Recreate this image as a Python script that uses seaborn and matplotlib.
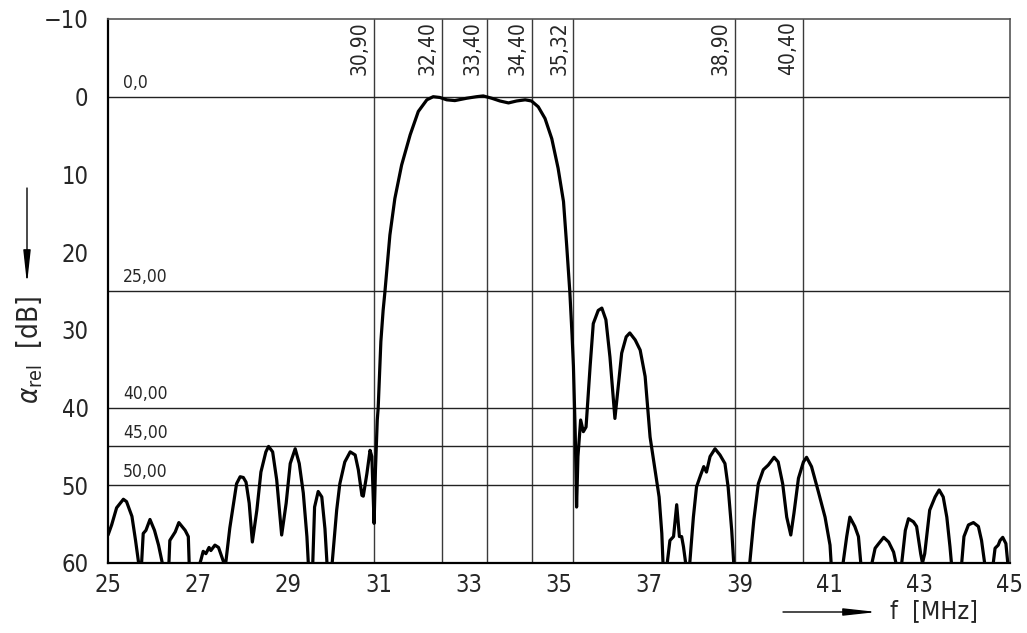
import matplotlib
matplotlib.use('Agg')
import matplotlib.pyplot as plt
from matplotlib import font_manager
import seaborn as sns
import pandas as pd

# SAW filter response, attenuation
freq = [25.00, 25.08, 25.19, 25.34, 25.41, 25.53, 25.61, 25.69, 25.73, 25.78,
        25.84, 25.93, 26.03, 26.12, 26.21, 26.29, 26.35, 26.37, 26.49, 26.57,
        26.71, 26.78, 26.80, 26.93, 27.06, 27.11, 27.17, 27.24, 27.28, 27.37,
        27.45, 27.58, 27.60, 27.70, 27.78, 27.85, 27.93, 28.00, 28.06, 28.13,
        28.20, 28.30, 28.39, 28.50, 28.56, 28.65, 28.74, 28.85, 28.95, 29.04,
        29.15, 29.24, 29.33, 29.41, 29.45, 29.50, 29.54, 29.58, 29.66, 29.74,
        29.81, 29.86, 29.92, 29.97, 30.07, 30.14, 30.25, 30.37, 30.48, 30.55,
        30.63, 30.66, 30.74, 30.81, 30.85, 30.90, 30.93, 30.97, 30.99, 31.05,
        31.10, 31.14, 31.25, 31.36, 31.51, 31.70, 31.88, 32.07, 32.21, 32.36,
        32.51, 32.69, 32.95, 33.17, 33.32, 33.51, 33.69, 33.88, 34.06, 34.25,
        34.39, 34.54, 34.69, 34.84, 34.98, 35.10, 35.17, 35.24, 35.29, 35.32,
        35.36, 35.38, 35.39, 35.42, 35.48, 35.54, 35.60, 35.69, 35.76, 35.87,
        35.95, 36.04, 36.13, 36.20, 36.24, 36.32, 36.39, 36.49, 36.57, 36.69,
        36.80, 36.91, 37.02, 37.13, 37.22, 37.28, 37.31, 37.35, 37.40, 37.46,
        37.54, 37.61, 37.67, 37.72, 37.76, 37.82, 37.86, 37.90, 37.98, 38.05,
        38.14, 38.21, 38.27, 38.35, 38.46, 38.57, 38.68, 38.75, 38.83, 38.88,
        39.05, 39.23, 39.32, 39.42, 39.53, 39.64, 39.77, 39.86, 39.96, 40.05,
        40.14, 40.21, 40.31, 40.42, 40.49, 40.60, 40.75, 40.90, 41.01, 41.04,
        41.17, 41.30, 41.38, 41.45, 41.56, 41.64, 41.70, 41.82, 41.94, 42.01,
        42.09, 42.20, 42.31, 42.42, 42.49, 42.55, 42.60, 42.68, 42.75, 42.86,
        42.93, 43.02, 43.06, 43.11, 43.22, 43.34, 43.43, 43.52, 43.60, 43.67,
        43.71, 43.82, 43.93, 43.98, 44.08, 44.19, 44.30, 44.37, 44.45, 44.54,
        44.63, 44.67, 44.74, 44.78, 44.84, 44.91, 44.96, 45.00]
atten = [56.4, 55.1, 52.9, 51.8, 52.1, 54.0, 57.1, 60.5, 61.5, 56.2,
         55.8, 54.4, 55.8, 57.7, 60.2, 62.0, 60.0, 57.1, 56.0, 54.8,
         55.8, 56.6, 60.2, 62.0, 59.6, 58.5, 58.8, 58.0, 58.4, 57.7,
         58.0, 60.2, 60.5, 55.5, 52.5, 49.8, 48.9, 49.0, 49.6, 52.3,
         57.3, 53.2, 48.3, 45.7, 45.0, 45.7, 49.3, 56.4, 52.3, 47.2,
         45.3, 47.2, 51.0, 56.6, 61.0, 62.0, 60.0, 52.8, 50.8, 51.5,
         55.6, 60.5, 62.0, 60.0, 53.2, 49.8, 47.0, 45.7, 46.1, 48.0,
         51.3, 51.4, 48.5, 45.5, 46.3, 54.9, 48.0, 41.6, 40.1, 31.5,
         27.5, 25.1, 17.8, 13.1, 8.8, 4.9, 1.9, 0.4, 0.0, 0.1,
         0.4, 0.5, 0.2, 0.0, -0.1, 0.2, 0.55, 0.8, 0.55, 0.4,
         0.55, 1.3, 2.8, 5.4, 9.2, 13.5, 19.1, 25.1, 30.7, 34.7,
         43.3, 50.2, 52.8, 46.3, 41.6, 43.1, 42.5, 34.7, 29.2, 27.5,
         27.2, 28.7, 33.5, 38.6, 41.4, 36.9, 33.0, 30.9, 30.4, 31.3,
         32.6, 36.0, 43.8, 48.0, 51.5, 56.2, 60.5, 62.0, 60.0, 57.1,
         56.6, 52.5, 56.6, 56.6, 57.9, 60.5, 62.0, 60.0, 54.1, 50.2,
         48.7, 47.6, 48.3, 46.3, 45.3, 46.1, 47.2, 50.2, 55.8, 60.5,
         62.0, 60.0, 54.5, 49.8, 48.0, 47.4, 46.4, 47.0, 49.8, 54.1,
         56.4, 53.6, 49.1, 47.0, 46.4, 47.6, 50.8, 54.1, 57.7, 60.5,
         62.0, 60.0, 56.6, 54.1, 55.3, 56.6, 60.5, 62.0, 60.0, 58.1,
         57.5, 56.7, 57.3, 58.6, 60.5, 62.0, 60.0, 55.8, 54.3, 54.7,
         55.3, 58.8, 60.0, 58.8, 53.2, 51.5, 50.6, 51.5, 54.1, 57.9,
         60.5, 62.0, 60.0, 56.6, 55.1, 54.8, 55.3, 57.1, 60.5, 62.0,
         60.0, 58.1, 57.7, 57.1, 56.7, 57.5, 60.5, 62.0]

marker_freqs = [30.90, 32.40, 33.40, 34.40, 35.32, 38.90, 40.40]
marker_labels = ['30,90', '32,40', '33,40', '34,40', '35,32', '38,90', '40,40']
level_db = [0, 25, 40, 45, 50]
level_labels = ['0,0', '25,00', '40,00', '45,00', '50,00']
x_ticks = [25, 27, 29, 31, 33, 35, 37, 39, 41, 43, 45]
y_ticks = [-10, 0, 10, 20, 30, 40, 50, 60]

sns.set_style('white')
plt.rcParams['font.family'] = ['DejaVu Sans']
plt.rcParams['mathtext.fontset'] = 'dejavusans'

# narrow drafting look: use a condensed face if one is installed
cond = [f for f in font_manager.fontManager.ttflist
        if f.name == 'DejaVu Sans' and f.stretch == 'condensed' and f.style == 'normal']
if cond:
    plt.rcParams['font.stretch'] = 'condensed'
    scale = 1.0
else:
    scale = 0.82

df = pd.DataFrame({'f': freq, 'a': atten})

fig = plt.figure(figsize=(10.27, 6.33), dpi=100)
ax = fig.add_axes([0.1052, 0.1106, 0.8782, 0.8594])

# marker lines first so the curve sits on top
for v, lab in zip(marker_freqs, marker_labels):
    ax.axvline(v, color='#3a3a3a', lw=1.0, zorder=1)
    ax.text(v - 0.09, -2.8, lab, rotation=90, ha='right', va='bottom',
            fontsize=15 * scale, fontweight='light')
for v, lab in zip(level_db, level_labels):
    ax.axhline(v, color='#222222', lw=1.0, zorder=1)
    ax.text(25.33, v - 0.6, lab, ha='left', va='bottom', fontsize=12.5 * scale,
            fontweight='light')

sns.lineplot(data=df, x='f', y='a', ax=ax, color='black', linewidth=2.3, sort=False, zorder=3)

ax.set_xlim(25, 45)
ax.set_ylim(60, -10)
ax.set_xticks(x_ticks)
ax.set_xticks([26, 28, 30, 32, 34, 36, 38, 40, 42, 44], minor=True)
ax.set_yticks(y_ticks)
ax.set_yticklabels(['\u221210' if t < 0 else str(t) for t in y_ticks])
ax.set_yticks([-5, 5, 15, 25, 35, 45, 55], minor=True)
ax.tick_params(axis='both', which='major', direction='inout', length=18, width=1.0,
               labelsize=17 * scale, color='black')
ax.tick_params(axis='both', which='minor', direction='in', length=9, width=1.0, color='black')
ax.tick_params(axis='y', which='major', pad=5)
ax.tick_params(axis='x', which='major', pad=-2)
for lab in ax.get_xticklabels() + ax.get_yticklabels():
    lab.set_fontweight('light')
ax.set_xlabel('')
ax.set_ylabel('')

for side in ['left', 'bottom']:
    ax.spines[side].set_color('black')
    ax.spines[side].set_linewidth(1.6)
for side in ['top', 'right']:
    ax.spines[side].set_color('#555555')
    ax.spines[side].set_linewidth(1.2)

# axis captions with arrows, placed in figure pixels
fig.text(30 / 1027, 1 - 350 / 633, r'$\alpha_{\rm rel}$  [dB]', rotation=90,
         ha='center', va='center', fontsize=20 * scale)
ax.annotate('', xy=(27, 633 - 284), xytext=(27, 633 - 188), xycoords='figure pixels',
            textcoords='figure pixels',
            arrowprops=dict(arrowstyle='-|>,head_length=2.0,head_width=0.22',
                            color='black', lw=1.0, shrinkA=0, shrinkB=0))
fig.text(890 / 1027, 1 - 611 / 633, 'f  [MHz]', ha='left', va='center',
         fontsize=18 * scale, fontweight='light')
ax.annotate('', xy=(877, 633 - 612), xytext=(783, 633 - 612), xycoords='figure pixels',
            textcoords='figure pixels',
            arrowprops=dict(arrowstyle='-|>,head_length=2.0,head_width=0.22',
                            color='black', lw=1.0, shrinkA=0, shrinkB=0))

fig.savefig('out.png', dpi=100)
